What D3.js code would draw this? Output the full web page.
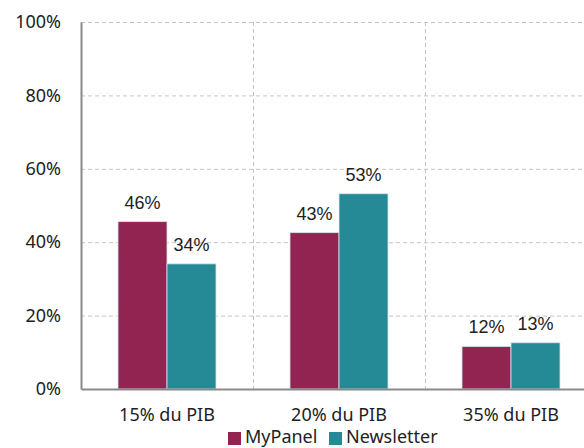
<!DOCTYPE html>
<html>
<head>
<meta charset="utf-8">
<script src="https://cdn.jsdelivr.net/npm/d3@7"></script>
<style>
  body { margin: 0; background: #fff; }
  svg { display: block; }
  .tick text { font-family: "Noto Sans", sans-serif; font-size: 18px; fill: #222; }
  .lbl { font-family: "Liberation Sans", Arial, sans-serif; font-size: 18px; fill: #222; }
  .leg { font-family: "Noto Sans", sans-serif; font-size: 18px; fill: #222; }
</style>
</head>
<body>
<div id="chart"></div>
<script>
const categories = ["15% du PIB", "20% du PIB", "35% du PIB"];
const series = ["MyPanel", "Newsletter"];
const myPanel = [45.6, 42.6, 11.6];
const newsletter = [34.1, 53.2, 12.6];
const yTicks = [0, 20, 40, 60, 80, 100];
const colors = ["#922452", "#268a96"];

const width = 584, height = 448;
const margin = { top: 22, left: 81, bottom: 59 };
const plotRight = 597; // plot runs past the right edge in the original

const svg = d3.select("#chart").append("svg")
    .attr("width", width)
    .attr("height", height);

const x0 = d3.scaleBand().domain(categories).range([margin.left, plotRight]);
const x1 = d3.scaleBand().domain(series).range([0, x0.bandwidth()]).paddingOuter(0.755);
const y = d3.scaleLinear().domain([0, 100]).range([height - margin.bottom, margin.top]);

// horizontal grid
svg.append("g")
    .attr("transform", `translate(${margin.left},0)`)
    .call(d3.axisLeft(y).tickValues(yTicks.slice(1)).tickSize(-(plotRight - margin.left)).tickFormat(""))
    .call(g => g.select(".domain").remove())
    .call(g => g.selectAll("line").attr("stroke", "#c4c4c4").attr("stroke-dasharray", "4,3"));

// vertical grid at category boundaries
svg.append("g").selectAll("line")
    .data(categories.slice(1))
    .enter().append("line")
    .attr("x1", d => x0(d) + 0.5)
    .attr("x2", d => x0(d) + 0.5)
    .attr("y1", y(100))
    .attr("y2", y(0))
    .attr("stroke", "#c4c4c4")
    .attr("stroke-dasharray", "4,3");

const rows = categories.map((c, i) => ({ cat: c, vals: [myPanel[i], newsletter[i]] }));

const groups = svg.append("g").selectAll("g")
    .data(rows)
    .enter().append("g")
    .attr("transform", d => `translate(${x0(d.cat)},0)`);

groups.selectAll("rect")
    .data(d => d.vals.map((v, j) => ({ s: series[j], v: v, j: j })))
    .enter().append("rect")
    .attr("x", d => x1(d.s))
    .attr("y", d => y(d.v))
    .attr("width", x1.bandwidth())
    .attr("height", d => y(0) - y(d.v))
    .attr("fill", d => colors[d.j])
    .attr("stroke", "#d8e6ea")
    .attr("stroke-width", 0.8);

groups.selectAll("text")
    .data(d => d.vals.map((v, j) => ({ s: series[j], v: v })))
    .enter().append("text")
    .attr("class", "lbl")
    .attr("x", d => x1(d.s) + x1.bandwidth() / 2)
    .attr("y", d => y(d.v) - 13)
    .attr("text-anchor", "middle")
    .text(d => Math.round(d.v) + "%");

// y axis
svg.append("g")
    .attr("transform", `translate(${margin.left},0)`)
    .call(d3.axisLeft(y).tickValues(yTicks).tickSize(0).tickPadding(20).tickFormat(d => d + "%"))
    .call(g => g.select(".domain").attr("stroke", "#8a8a8a").attr("stroke-width", 2))
    .call(g => g.selectAll(".tick text").attr("dy", "0.32em"));

// x axis
svg.append("g")
    .attr("transform", `translate(0,${y(0)})`)
    .call(d3.axisBottom(x0).tickSize(0).tickPadding(19))
    .call(g => g.select(".domain").attr("stroke", "#8a8a8a").attr("stroke-width", 2));

// legend (nudged up a little so the descenders stay inside the picture)
const legend = svg.append("g").attr("transform", "translate(228,431)");
const legX = [0, 101];
series.forEach((s, i) => {
    legend.append("rect")
        .attr("x", legX[i])
        .attr("y", 1)
        .attr("width", 13)
        .attr("height", 13)
        .attr("fill", colors[i]);
    legend.append("text")
        .attr("class", "leg")
        .attr("x", legX[i] + 17)
        .attr("y", 12)
        .text(s);
});
</script>
</body>
</html>
